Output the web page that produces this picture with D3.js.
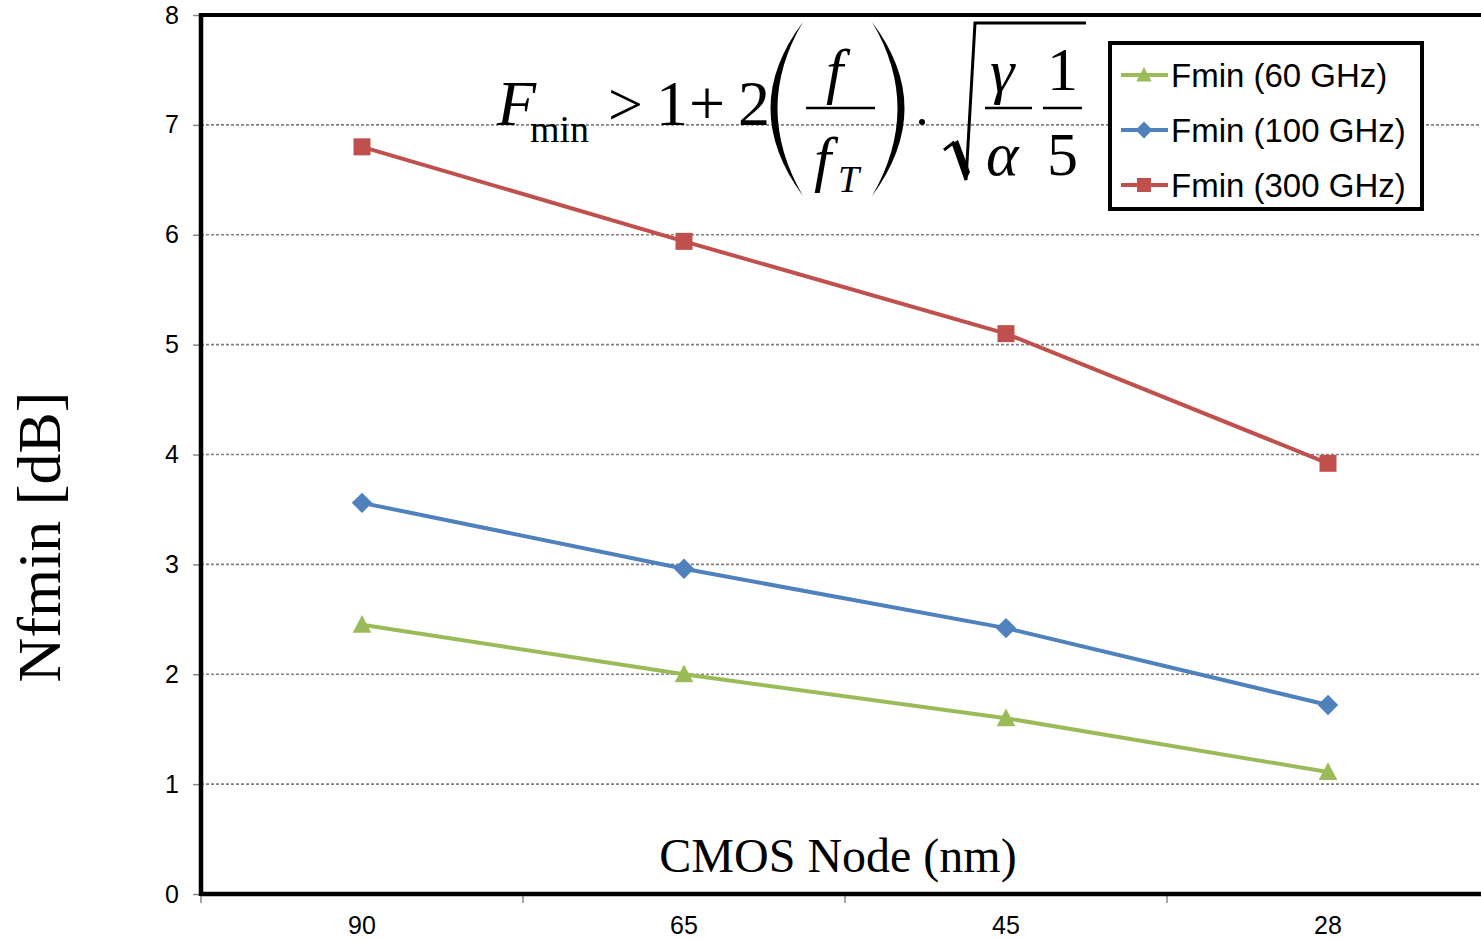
<!DOCTYPE html>
<html>
<head>
<meta charset="utf-8">
<script src="https://cdn.jsdelivr.net/npm/d3@7"></script>
<style>
  body { margin: 0; background: #fff; }
  svg { display: block; }
</style>
</head>
<body>
<div id="chart"></div>
<script>
// data
const nodes = ["90", "65", "45", "28"]
const fmin60 = [2.45, 2.0, 1.6, 1.11]
const fmin100 = [3.56, 2.96, 2.42, 1.72]
const fmin300 = [6.8, 5.94, 5.1, 3.92]
const yTicks = [0, 1, 2, 3, 4, 5, 6, 7, 8]

const series = [
  { name: "Fmin (60 GHz)", values: fmin60, color: "#9BBB59", shape: "triangle" },
  { name: "Fmin (100 GHz)", values: fmin100, color: "#4F81BD", shape: "diamond" },
  { name: "Fmin (300 GHz)", values: fmin300, color: "#C0504D", shape: "square" }
]

const width = 1481
const height = 940
const plotLeft = 201
const plotTop = 15
const plotBottom = 894

const svg = d3.select("#chart").append("svg")
  .attr("width", width)
  .attr("height", height)

const x = d3.scalePoint().domain(nodes).range([plotLeft, plotLeft + 322 * 4]).padding(0.5)
const y = d3.scaleLinear().domain([0, 8]).range([plotBottom, plotTop])

// grid lines
svg.append("g").selectAll("line")
  .data(yTicks.filter(d => d > 0 && d < 8))
  .enter().append("line")
  .attr("x1", plotLeft).attr("x2", width)
  .attr("y1", d => y(d)).attr("y2", d => y(d))
  .attr("stroke", "#808080")
  .attr("stroke-width", 1.6)
  .attr("stroke-dasharray", "3,2")

// y axis
const yAxis = d3.axisLeft(y).tickValues(yTicks).tickSize(8).tickPadding(14)
const gy = svg.append("g").attr("transform", "translate(" + plotLeft + ",0)").call(yAxis)
gy.select(".domain").remove()
gy.selectAll(".tick line").attr("stroke", "#888").attr("stroke-width", 1.5)
gy.selectAll("text")
  .attr("font-family", "Liberation Sans, Arial, sans-serif")
  .attr("font-size", 25)
  .attr("fill", "#000")

// x axis: tick marks on band edges, labels at points
const edges = d3.range(5).map(i => plotLeft + i * 322)
svg.append("g").selectAll("line")
  .data(edges)
  .enter().append("line")
  .attr("x1", d => d).attr("x2", d => d)
  .attr("y1", plotBottom).attr("y2", plotBottom + 9)
  .attr("stroke", "#888").attr("stroke-width", 1.5)

svg.append("g").selectAll("text")
  .data(nodes)
  .enter().append("text")
  .attr("x", d => x(d))
  .attr("y", 934)
  .attr("text-anchor", "middle")
  .attr("font-family", "Liberation Sans, Arial, sans-serif")
  .attr("font-size", 25)
  .text(d => d)

// frame
svg.append("line").attr("x1", plotLeft).attr("x2", width).attr("y1", plotTop).attr("y2", plotTop)
  .attr("stroke", "#000").attr("stroke-width", 4)
svg.append("line").attr("x1", plotLeft).attr("x2", width).attr("y1", plotBottom).attr("y2", plotBottom)
  .attr("stroke", "#000").attr("stroke-width", 4.5)
svg.append("line").attr("x1", plotLeft).attr("x2", plotLeft).attr("y1", plotTop - 2).attr("y2", plotBottom + 2)
  .attr("stroke", "#000").attr("stroke-width", 4.5)

// markers
function marker(sel, shape, color, s) {
  if (shape === "square") {
    sel.append("rect").attr("x", -s / 2).attr("y", -s / 2).attr("width", s).attr("height", s).attr("fill", color)
  } else if (shape === "diamond") {
    const h = s * 0.6
    sel.append("path").attr("d", "M0," + (-h) + "L" + h + ",0L0," + h + "L" + (-h) + ",0Z").attr("fill", color)
  } else {
    const h = s * 0.55
    sel.append("path").attr("d", "M0," + (-h * 1.05) + "L" + h + "," + h * 0.85 + "L" + (-h) + "," + h * 0.85 + "Z").attr("fill", color)
  }
}

const line = d3.line().x((d, i) => x(nodes[i])).y(d => y(d))

series.forEach(function(s) {
  svg.append("path")
    .datum(s.values)
    .attr("d", line)
    .attr("fill", "none")
    .attr("stroke", s.color)
    .attr("stroke-width", 4)
  s.values.forEach(function(v, i) {
    const g = svg.append("g").attr("transform", "translate(" + x(nodes[i]) + "," + y(v) + ")")
    marker(g, s.shape, s.color, 17)
  })
})

// axis titles
svg.append("text")
  .attr("transform", "translate(60,537)rotate(-90)")
  .attr("text-anchor", "middle")
  .attr("font-family", "Liberation Serif, Times New Roman, serif")
  .attr("font-size", 62)
  .text("Nfmin [dB]")

svg.append("text")
  .attr("x", 838)
  .attr("y", 872)
  .attr("text-anchor", "middle")
  .attr("font-family", "Liberation Serif, Times New Roman, serif")
  .attr("font-size", 48)
  .text("CMOS Node (nm)")

// legend
const legend = svg.append("g")
legend.append("rect")
  .attr("x", 1110).attr("y", 43).attr("width", 312).attr("height", 166)
  .attr("fill", "#fff").attr("stroke", "#000").attr("stroke-width", 4)
series.forEach(function(s, i) {
  const ly = 75 + i * 55
  legend.append("line").attr("x1", 1121).attr("x2", 1168).attr("y1", ly).attr("y2", ly)
    .attr("stroke", s.color).attr("stroke-width", 4)
  const g = legend.append("g").attr("transform", "translate(1144," + ly + ")")
  marker(g, s.shape, s.color, 14)
  legend.append("text")
    .attr("x", 1171).attr("y", ly + 12)
    .attr("font-family", "Liberation Sans, Arial, sans-serif")
    .attr("font-size", 33)
    .text(s.name)
})

// formula
const eq = svg.append("g")
  .attr("font-family", "Liberation Serif, Times New Roman, serif")
  .attr("fill", "#000")
function txt(t, px, py, size, italic) {
  eq.append("text").attr("x", px).attr("y", py).attr("font-size", size)
    .attr("font-style", italic ? "italic" : "normal").text(t)
}
txt("F", 497, 125, 64, true)
txt("min", 530, 142, 38, false)
txt(">", 608, 125, 62, false)
txt("1", 656, 125, 64, false)
txt("+", 689, 125, 64, false)
txt("2", 738, 125, 64, false)
// big parentheses
eq.append("path").attr("d", "M803,22Q738,108 803,196Q752,108 803,22Z")
eq.append("path").attr("d", "M872,22Q937,108 872,196Q923,108 872,22Z")
// f / f_T
txt("f", 826, 92, 62, true)
eq.append("line").attr("x1", 806).attr("x2", 875).attr("y1", 108).attr("y2", 108).attr("stroke", "#000").attr("stroke-width", 2.5)
txt("f", 814, 180, 62, true)
txt("T", 838, 192, 38, true)
// dot
eq.append("circle").attr("cx", 922).attr("cy", 122).attr("r", 3)
// radical
eq.append("path")
  .attr("d", "M944,150L953,143L966,180L975,23L1086,23")
  .attr("fill", "none").attr("stroke", "#000").attr("stroke-width", 3)
eq.append("path").attr("d", "M953,143L958,140L970,172L966,180Z")
// gamma/alpha, 1/5
txt("\u03B3", 990, 92, 62, true)
eq.append("line").attr("x1", 985).attr("x2", 1032).attr("y1", 108).attr("y2", 108).attr("stroke", "#000").attr("stroke-width", 2.5)
txt("\u03B1", 986, 175, 62, true)
txt("1", 1047, 90, 62, false)
eq.append("line").attr("x1", 1043).attr("x2", 1082).attr("y1", 108).attr("y2", 108).attr("stroke", "#000").attr("stroke-width", 2.5)
txt("5", 1047, 175, 62, false)
</script>
</body>
</html>
